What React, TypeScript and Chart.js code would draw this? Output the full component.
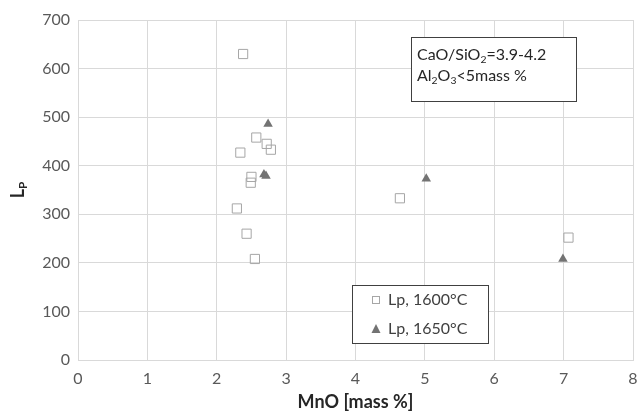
import React, { useEffect, useRef } from 'react';
import { Chart, registerables } from 'chart.js';
Chart.register(...registerables);

// ---- data ----
const mnO1600 = [2.38, 2.57, 2.72, 2.78, 2.34, 2.5, 2.49, 2.29, 2.43, 2.55, 4.64, 7.07];
const lp1600 = [630, 458, 445, 433, 427, 377, 365, 312, 260, 208, 333, 252];
const mnO1650 = [2.74, 2.68, 2.71, 5.02, 6.99];
const lp1650 = [486, 382, 379, 373, 208];
const seriesLabels = ['Lp, 1600°C', 'Lp, 1650°C'];
const xTicks = [0, 1, 2, 3, 4, 5, 6, 7, 8];
const yTicks = [0, 100, 200, 300, 400, 500, 600, 700];
const xTitle = 'MnO [mass %]';
const yTitle = [{ t: 'L' }, { t: 'P', sub: true }];
const noteLines = [
  [{ t: 'CaO/SiO' }, { t: '2', sub: true }, { t: '=3.9-4.2' }],
  [{ t: 'Al' }, { t: '2', sub: true }, { t: 'O' }, { t: '3', sub: true }, { t: '<5mass %' }],
];

const FONT = 'Lato, "Liberation Sans", sans-serif';
const SQ_COLOR = '#a6a6a6';
const TRI_COLOR = '#737373';

type Seg = { t: string; sub?: boolean };

function richWidth(ctx: CanvasRenderingContext2D, segs: Seg[], size: number, weight: string) {
  let w = 0;
  for (const s of segs) {
    ctx.font = `${weight} ${s.sub ? size * 0.65 : size}px ${FONT}`;
    w += ctx.measureText(s.t).width;
  }
  return w;
}

function drawRich(ctx: CanvasRenderingContext2D, segs: Seg[], x: number, y: number, size: number, weight: string) {
  let cx = x;
  ctx.textBaseline = 'middle';
  ctx.textAlign = 'left';
  for (const s of segs) {
    const fs = s.sub ? size * 0.65 : size;
    ctx.font = `${weight} ${fs}px ${FONT}`;
    ctx.fillText(s.t, cx, s.sub ? y + size * 0.3 : y);
    cx += ctx.measureText(s.t).width;
  }
}

const overlay = {
  id: 'overlay',
  afterDraw(chart: any) {
    const ctx: CanvasRenderingContext2D = chart.ctx;
    ctx.save();
    // y-axis title
    ctx.save();
    ctx.translate(18, 190);
    ctx.rotate(-Math.PI / 2);
    ctx.fillStyle = '#262626';
    const yw = richWidth(ctx, yTitle, 18, 'bold');
    drawRich(ctx, yTitle, -yw / 2, 0, 18, 'bold');
    ctx.restore();

    // annotation box
    ctx.fillStyle = '#ffffff';
    ctx.fillRect(411, 37, 165, 64);
    ctx.strokeStyle = '#404040';
    ctx.lineWidth = 1;
    ctx.strokeRect(411.5, 37.5, 165, 64);
    ctx.fillStyle = '#262626';
    drawRich(ctx, noteLines[0], 417, 55, 16, 'normal');
    drawRich(ctx, noteLines[1], 417, 76, 16, 'normal');

    // legend
    ctx.fillStyle = '#ffffff';
    ctx.fillRect(352, 285, 136, 58);
    ctx.strokeStyle = '#404040';
    ctx.strokeRect(352.5, 285.5, 136, 58);
    const rows = [300, 329];
    chart.data.datasets.forEach((ds: any, i: number) => {
      const y = rows[i];
      if (ds.pointStyle === 'rect') {
        ctx.strokeStyle = SQ_COLOR;
        ctx.lineWidth = 1;
        ctx.strokeRect(372.5, y - 3.5, 7, 7);
      } else {
        ctx.fillStyle = TRI_COLOR;
        ctx.beginPath();
        ctx.moveTo(376, y - 5);
        ctx.lineTo(380.5, y + 4);
        ctx.lineTo(371.5, y + 4);
        ctx.closePath();
        ctx.fill();
      }
      ctx.fillStyle = '#404040';
      ctx.font = `16px ${FONT}`;
      ctx.textBaseline = 'middle';
      ctx.textAlign = 'left';
      ctx.fillText(ds.label, 388, y);
    });
    ctx.restore();
  },
};

export default function App() {
  const ref = useRef<HTMLCanvasElement>(null);
  useEffect(() => {
    if (!ref.current) return;
    const chart = new Chart(ref.current, {
      type: 'scatter',
      data: {
        datasets: [
          {
            label: seriesLabels[0],
            data: mnO1600.map((x, i) => ({ x, y: lp1600[i] })),
            pointStyle: 'rect',
            pointRadius: 6.5,
            pointHoverRadius: 6.5,
            backgroundColor: 'rgba(255,255,255,0)',
            borderColor: SQ_COLOR,
            borderWidth: 1,
          },
          {
            label: seriesLabels[1],
            data: mnO1650.map((x, i) => ({ x, y: lp1650[i] })),
            pointStyle: 'triangle',
            pointRadius: 5.5,
            pointHoverRadius: 5.5,
            backgroundColor: TRI_COLOR,
            borderColor: TRI_COLOR,
            borderWidth: 0,
          },
        ],
      },
      options: {
        animation: false,
        responsive: false,
        layout: { autoPadding: false, padding: { top: 20, right: 5, bottom: 0, left: 0 } },
        plugins: {
          legend: { display: false },
          tooltip: { enabled: false },
        },
        scales: {
          x: {
            type: 'linear',
            min: 0,
            max: 8,
            afterBuildTicks: (s: any) => { s.ticks = xTicks.map((v) => ({ value: v })); },
            afterFit: (s: any) => { s.height = 53; s.paddingLeft = 0; s.paddingRight = 0; },
            ticks: { color: '#595959', font: { family: FONT, size: 16 }, padding: 9 },
            grid: { color: '#d9d9d9', lineWidth: 1, drawTicks: false },
            border: { color: '#d9d9d9' },
            title: {
              display: true,
              text: xTitle,
              color: '#262626',
              font: { family: FONT, size: 18, weight: 'bold' },
              padding: { top: 2, bottom: 0 },
            },
          },
          y: {
            type: 'linear',
            min: 0,
            max: 700,
            afterBuildTicks: (s: any) => { s.ticks = yTicks.map((v) => ({ value: v })); },
            afterFit: (s: any) => { s.width = 78; s.paddingTop = 0; s.paddingBottom = 0; },
            ticks: { color: '#595959', font: { family: FONT, size: 16 }, padding: 8 },
            grid: { color: '#d9d9d9', lineWidth: 1, drawTicks: false },
            border: { color: '#d9d9d9' },
          },
        },
      },
      plugins: [overlay],
    });
    return () => chart.destroy();
  }, []);
  return (
    <div style={{ position: 'absolute', left: 0, top: 0, width: 638, height: 413, background: '#fff' }}>
      <canvas ref={ref} width={638} height={413} />
    </div>
  );
}
